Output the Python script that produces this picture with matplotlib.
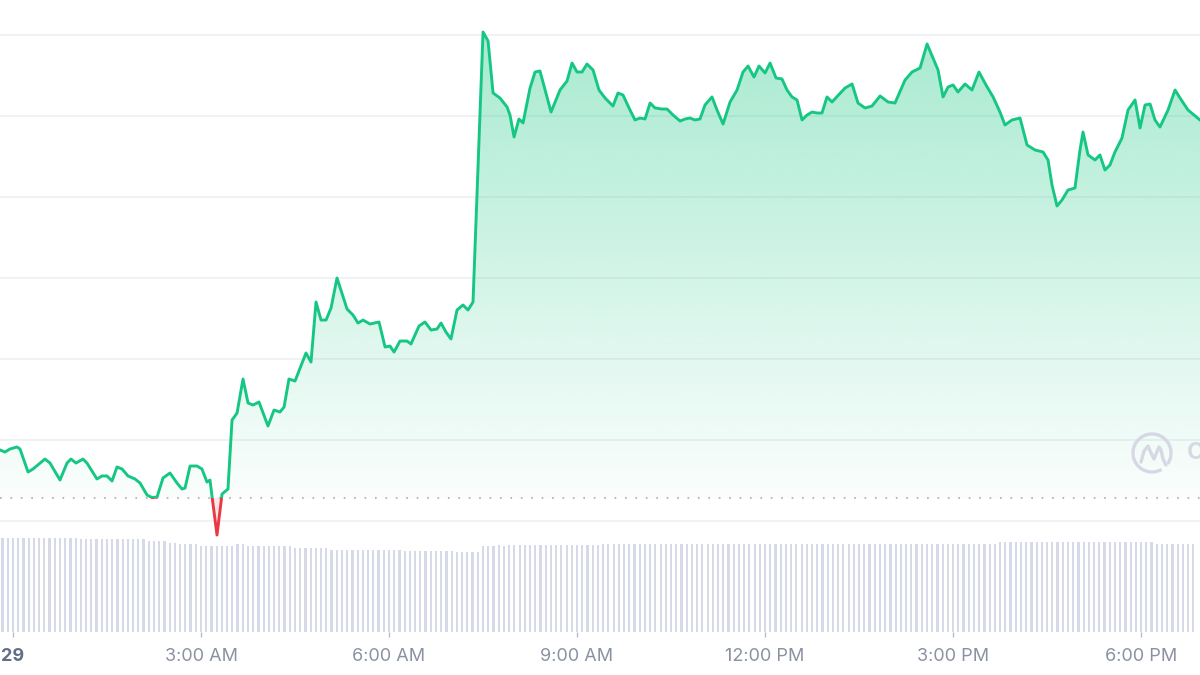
import numpy as np
import matplotlib
matplotlib.use("Agg")
import matplotlib.pyplot as plt
from matplotlib.patches import Rectangle, Arc
from matplotlib.path import Path

# ---------------- data ----------------
# time in minutes since midnight of the 29th, price in chart units
minutes = [
    -12.4, -7.7, -2.9, 3.8, 6.7, 14.4, 19.1, 30.6, 35.4, 45.0, 51.7, 55.5, 60.3, 67.0, 70.8,
    80.4, 85.2, 90.0, 94.8, 99.6, 104.4, 110.1, 116.8, 121.6, 128.3, 133.1, 137.9, 143.6, 150.3,
    157.0, 161.8, 164.7, 169.5, 176.2, 180.9, 185.7, 188.6, 190.5, 195.3, 200.1, 205.8, 209.7,
    214.5, 220.2, 225.0, 229.8, 235.5, 244.1, 249.9, 255.6, 259.5, 264.2, 270.0, 280.5, 285.3,
    290.1, 294.9, 299.7, 304.5, 310.2, 319.8, 325.5, 330.3, 335.1, 341.8, 350.4, 356.2, 360.9,
    364.8, 370.5, 377.2, 381.0, 388.7, 394.4, 400.2, 405.9, 409.8, 414.5, 419.3, 425.1, 430.8,
    435.6, 440.4, 450.0, 454.8, 459.6, 466.2, 473.0, 475.8, 479.7, 484.4, 488.3, 495.0, 499.8,
    504.5, 515.1, 523.7, 530.4, 535.2, 540.0, 544.8, 549.5, 555.3, 561.0, 566.8, 574.4, 579.2,
    584.0, 590.7, 595.5, 600.3, 605.1, 609.9, 614.7, 621.3, 626.1, 631.9, 638.6, 643.4, 648.2,
    652.9, 657.7, 662.5, 669.2, 674.0, 679.8, 686.5, 693.2, 698.9, 703.7, 709.4, 714.2, 720.0,
    724.8, 730.5, 736.2, 741.0, 745.8, 750.6, 755.4, 760.2, 765.0, 769.7, 774.5, 779.3, 784.1,
    796.6, 803.3, 809.0, 815.7, 822.4, 830.1, 837.7, 844.4, 854.0, 860.7, 868.4, 875.1, 880.8,
    885.6, 890.4, 895.2, 900.0, 904.7, 911.4, 918.1, 924.8, 931.5, 938.3, 944.9, 949.7, 956.4,
    964.1, 970.8, 978.5, 986.1, 990.9, 994.7, 999.5, 1004.3, 1010.0, 1016.7, 1021.5, 1024.4,
    1029.2, 1035.9, 1040.6, 1045.4, 1050.2, 1055.0, 1061.7, 1067.5, 1074.2, 1079.0, 1083.8,
    1088.6, 1093.3, 1098.1, 1105.8, 1112.5, 1117.3, 1124.9, 1136.4,
]
price = [
    8.77, 8.52, 8.89, 9.14, 8.89, 6.05, 6.42, 7.65, 7.16, 5.06, 7.16, 7.65, 7.16, 7.65, 7.16,
    5.19, 5.56, 5.56, 4.94, 6.67, 6.42, 5.56, 5.19, 4.69, 3.21, 2.90, 2.96, 5.31, 5.93,
    4.69, 3.95, 4.07, 6.79, 6.79, 6.42, 4.81, 5.06, 3.09, -1.73, 3.33, 3.95, 12.47,
    13.33, 17.53, 14.57, 14.32, 14.69, 11.73, 13.70, 13.46, 14.07, 17.53, 17.28, 20.74, 19.63,
    27.04, 24.81, 24.81, 26.30, 30.00, 26.17, 25.43, 24.44, 24.81, 24.32, 24.57, 21.48, 21.60,
    20.86, 22.22, 22.22, 21.85, 24.07, 24.57, 23.58, 23.70, 24.44, 23.33, 22.47, 26.05, 26.67,
    26.05, 27.04, 60.37, 59.26, 52.84, 52.22, 51.11, 50.12, 47.41, 49.63, 49.14, 53.46, 55.43,
    55.56, 50.49, 53.21, 54.32, 56.54, 55.43, 55.43, 56.42, 55.68, 53.21, 52.22, 51.23, 52.84,
    52.59, 50.74, 49.51, 49.75, 49.63, 51.60, 50.99, 50.86, 50.86, 50.12, 49.38, 49.63, 49.75,
    49.51, 49.63, 51.36, 52.35, 50.74, 49.01, 51.73, 53.21, 55.43, 56.17, 54.81, 56.17, 55.31,
    56.54, 54.69, 54.57, 53.21, 52.35, 51.98, 49.51, 50.12, 50.49, 50.37, 50.37, 52.35, 51.73,
    53.46, 53.95, 51.60, 50.99, 51.23, 52.47, 51.73, 51.60, 54.44, 55.43, 55.93, 58.89, 57.16,
    55.68, 52.35, 53.58, 53.83, 52.96, 53.95, 53.21, 55.43, 53.83, 52.35, 50.49, 48.89, 49.51,
    49.75, 46.42, 45.80, 45.56, 44.57, 41.48, 38.89, 39.63, 40.86, 41.11, 45.80, 48.02,
    45.19, 44.57, 45.19, 43.33, 43.95, 45.56, 47.28, 50.74, 51.98, 48.52, 51.36,
    51.48, 49.51, 48.64, 50.74, 53.21, 52.22, 50.74, 49.51,
]
baseline_price = 2.84  # reference (open) price, dotted line

# volume bars, one every 5 minutes starting at -10 min
vol_first_minute = -10
vol_step_minutes = 5
volume = [
    94, 94, 94, 94, 94, 94, 94, 94, 94, 94, 94, 94, 94, 94, 94,
    93, 93, 93, 93, 93, 93, 93, 93, 93, 93, 93, 93, 93,
    91, 91, 91, 91, 89, 89, 88, 88, 88, 88,
    86, 86, 86, 86, 86, 86, 86, 88, 88, 86, 86, 86, 86, 86, 86, 86, 86, 86,
    84, 84, 84, 84, 84, 84, 84,
    82, 82, 82, 82, 82, 82, 82, 82, 82, 82, 82, 82, 82, 82, 81, 81, 81, 81, 81, 81, 81, 81, 81, 81,
    80, 80, 80, 80, 80, 86, 86, 86, 87, 86,
    87, 87, 87, 87, 87, 87, 87, 87, 87, 87, 87, 87, 87, 87, 87, 87, 87, 87,
    88, 88, 88, 88, 88, 88, 88, 88, 88, 88, 88, 88, 88, 88, 88, 88, 88, 88, 88,
    88, 88, 88, 88, 88, 88, 88, 88, 88, 88, 88, 88, 88, 88, 88, 88, 88, 88, 88,
    88, 88, 88, 88, 88, 88, 88, 88, 88, 88, 88, 88, 88, 88, 88, 88, 88, 88, 88,
    88, 88, 88, 88, 88, 88, 88, 88, 88, 88, 88, 88, 88, 88, 88, 88, 88, 88, 88,
    90, 90, 90, 90, 90, 90, 90, 90, 90, 90, 90, 90, 90, 90, 90,
    90, 90, 90, 90, 90, 90, 90, 90, 90, 90, 90, 90, 90, 90, 90,
    88, 88, 88, 88, 88, 88, 88, 88,
]
tick_minutes = [0, 180, 360, 540, 720, 900, 1080]
tick_labels = ["29", "3:00 AM", "6:00 AM", "9:00 AM", "12:00 PM", "3:00 PM", "6:00 PM"]
x_range = (-12.45, 1136.4)
price_range = (-13.70, 64.32)
grid_prices = [0, 10, 20, 30, 40, 50, 60]

# ---------------- style ----------------
GREEN = "#16c784"
RED = "#ea3943"
GRID = "#eef0f3"
VOLCOL = "#d6d9e7"
TXT = "#8a92a2"
LOGO = "#d6d9e4"

plt.rcParams["font.family"] = ["Inter", "DejaVu Sans"]

W, H = 1200, 675
fig = plt.figure(figsize=(W / 100, H / 100), dpi=100)
fig.patch.set_facecolor("white")

t = np.array(minutes)
p = np.array(price)

# ---- volume axes (bottom strip) ----
axv = fig.add_axes([0, 43 / H, 1, 102 / H])
vol_t = vol_first_minute + vol_step_minutes * np.arange(len(volume))
axv.bar(vol_t, volume, width=2.1, color=VOLCOL, linewidth=0, align="center")
axv.set_xlim(*x_range)
axv.set_ylim(0, 102)
for s in axv.spines.values():
    s.set_visible(False)
axv.set_yticks([])
axv.set_xticks(tick_minutes)
axv.set_xticklabels(tick_labels)
axv.tick_params(axis="x", direction="out", length=3.5, width=1, color="#b7bcc8",
                labelsize=13, labelcolor=TXT, pad=8)
lbls = axv.get_xticklabels()
lbls[0].set_fontweight("bold")
lbls[0].set_color("#616e85")
axv.patch.set_alpha(0)

# ---- price axes ----
ax = fig.add_axes([0, 43 / H, 1, 632 / H])
ax.patch.set_alpha(0)
ax.set_xlim(*x_range)
ax.set_ylim(*price_range)
for s in ax.spines.values():
    s.set_visible(False)
ax.set_yticks(grid_prices)
ax.set_xticks([])
ax.tick_params(left=False, labelleft=False)
ax.yaxis.grid(True, color=GRID, linewidth=1.2)
ax.set_axisbelow(True)

# gradient fill above baseline
fb = ax.fill_between(t, p, baseline_price, where=p >= baseline_price, interpolate=True,
                     facecolor="none", edgecolor="none")
clip = Path.make_compound_path(*fb.get_paths())
n = 256
grad = np.zeros((n, 1, 4))
grad[:, 0, 0] = 22 / 255
grad[:, 0, 1] = 199 / 255
grad[:, 0, 2] = 132 / 255
grad[:, 0, 3] = np.linspace(0.02, 0.40, n)
im = ax.imshow(grad, aspect="auto", origin="lower",
               extent=[x_range[0], x_range[1], baseline_price, price_range[1]], zorder=1)
im.set_clip_path(clip, transform=ax.transData)

# red fill below baseline
ax.fill_between(t, p, baseline_price, where=p < baseline_price, interpolate=True,
                facecolor=RED, alpha=0.12, edgecolor="none", zorder=1)

# baseline dotted
ax.axhline(baseline_price, color="#b4bac6", linewidth=1.5, linestyle=(0, (0.8, 4.2)), zorder=2)

# price line, green above / red below baseline
above = Rectangle((x_range[0], baseline_price), x_range[1] - x_range[0], 200, transform=ax.transData)
below = Rectangle((x_range[0], baseline_price - 200), x_range[1] - x_range[0], 200, transform=ax.transData)
lg, = ax.plot(t, p, color=GREEN, linewidth=2.1, solid_joinstyle="round", zorder=3)
lg.set_clip_path(above)
lr, = ax.plot(t, p, color=RED, linewidth=2.1, solid_joinstyle="round", zorder=3)
lr.set_clip_path(below)

# ---- watermark logo (cut off at the right edge, as in the original) ----
cx, cy, r = 1152, 675 - 453, 26
lax = fig.add_axes([(cx - r) / W, (cy - r) / H, 2 * r / W, 2 * r / H])
lax.set_xlim(-r, r)
lax.set_ylim(-r, r)
lax.axis("off")
lax.patch.set_alpha(0)
lax.add_patch(Arc((0, 0), 38, 38, theta1=-35, theta2=300, color=LOGO, linewidth=2.4))
wave_x = [-11, -8, -4, -1, 2, 4, 7, 9, 11, 14]
wave_y = [-9, 2, 7, 0, -6, -1, 6, 3, -6, -12]
lax.plot(wave_x, wave_y, color=LOGO, linewidth=2.4, solid_joinstyle="round",
         solid_capstyle="round")
fig.text(1187 / W, (675 - 453) / H, "CoinMarketCap", color=LOGO, fontsize=17,
         fontweight="bold", va="center", ha="left")

fig.savefig("out.png", dpi=100)
